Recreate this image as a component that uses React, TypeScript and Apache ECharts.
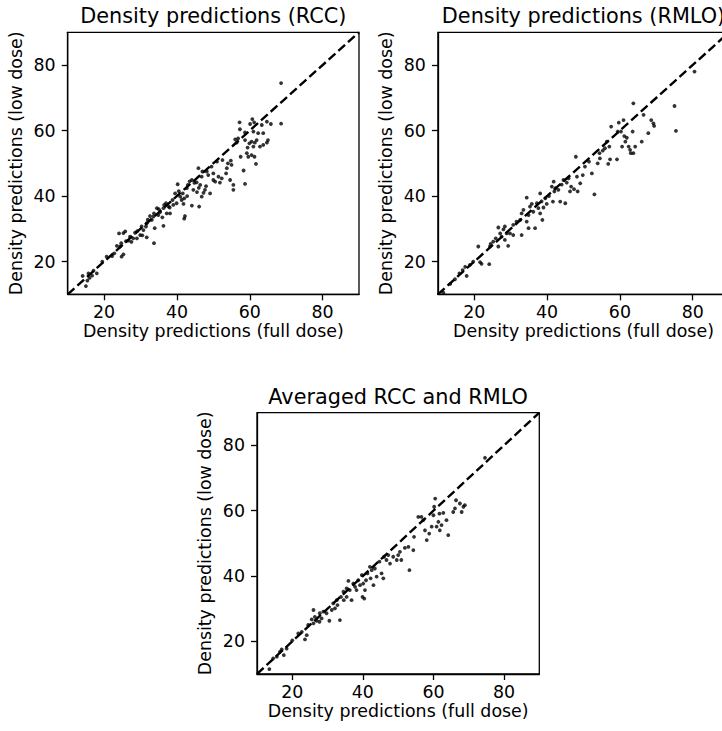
import React, { useEffect, useRef } from "react";
import * as echarts from "echarts";

const FONT = "DejaVu Sans";
const TICKS = [20, 40, 60, 80];
const AXIS_MIN = 10;
const AXIS_MAX = 90;
const TITLES = ["Density predictions (RCC)", "Density predictions (RMLO)", "Averaged RCC and RMLO"];
const X_NAME = "Density predictions (full dose)";
const Y_NAME = "Density predictions (low dose)";
const IDENTITY: [number, number][] = [[10, 10], [90, 90]];

// [full dose, low dose]
const rccPoints: [number, number][] = [
  [15.0, 12.5], [15.4, 14.2], [14.1, 15.6], [15.7, 16.4], [17.1, 17.2], [16.7, 15.7], [18.0, 16.4], [16.0, 15.0],
  [19.5, 20.0], [20.7, 21.5], [22.2, 21.7], [22.8, 22.5], [23.5, 24.8], [24.4, 24.6], [24.7, 25.6], [25.3, 28.7],
  [24.1, 28.6], [25.8, 29.2], [25.3, 22.2], [24.8, 21.5], [26.0, 26.2], [26.7, 26.4], [27.1, 27.6], [27.5, 26.0],
  [28.0, 27.1], [28.5, 28.8], [29.0, 27.1], [29.9, 28.1], [29.1, 29.3], [30.5, 28.0], [30.8, 29.6], [30.3, 30.7],
  [31.5, 30.7], [31.7, 27.4], [31.7, 31.7], [32.0, 32.8], [33.1, 32.7], [33.5, 33.7], [33.7, 34.7], [32.6, 33.9],
  [33.9, 30.2], [33.7, 25.6], [34.5, 36.3], [35.0, 36.0], [35.4, 35.1], [34.9, 34.2], [36.0, 33.5], [36.3, 36.3],
  [36.5, 37.3], [36.3, 30.9], [37.0, 37.8], [37.7, 36.8], [37.2, 34.7], [38.0, 36.5], [38.1, 34.7], [39.0, 37.3],
  [38.8, 38.8], [39.9, 37.8], [39.5, 40.8], [40.2, 43.6], [40.5, 41.5], [40.9, 39.8], [41.3, 38.8], [41.8, 37.6],
  [42.0, 39.3], [41.6, 40.8], [42.2, 33.9], [42.0, 33.1], [42.7, 42.4], [42.8, 40.0], [43.0, 43.4], [43.5, 44.5],
  [44.1, 44.9], [44.5, 41.9], [44.8, 44.0], [44.1, 37.1], [46.1, 36.8], [45.4, 44.2], [45.5, 41.2], [46.4, 43.4],
  [45.9, 48.5], [46.0, 42.5], [46.8, 45.9], [47.0, 47.5], [47.3, 41.0], [46.8, 39.8], [47.7, 41.9], [48.0, 43.0],
  [48.2, 47.5], [48.6, 46.4], [49.1, 40.8], [49.5, 49.0], [50.0, 44.9], [50.0, 46.9], [50.5, 44.4], [51.0, 50.5],
  [51.4, 45.9], [51.8, 44.1], [52.3, 45.4], [52.5, 51.0], [53.5, 46.9], [53.7, 48.5], [54.6, 44.9], [54.8, 50.8],
  [54.0, 50.0], [55.5, 43.4], [55.5, 41.9], [55.0, 49.5], [56.0, 57.3], [56.8, 57.6], [56.4, 56.3], [58.7, 57.1],
  [58.3, 47.8], [58.7, 43.7], [57.5, 52.0], [59.2, 53.1], [59.6, 52.0], [60.5, 52.5], [61.0, 55.1], [61.3, 52.0],
  [61.7, 49.8], [59.9, 56.1], [59.4, 54.8], [60.5, 56.6], [61.4, 56.3], [61.9, 57.1], [62.8, 55.1], [63.7, 55.6],
  [64.7, 56.3], [65.0, 57.1], [63.7, 59.2], [62.3, 59.2], [61.0, 59.7], [58.7, 59.4], [57.3, 60.4], [57.2, 62.5],
  [60.1, 62.0], [60.7, 63.5], [61.2, 62.5], [63.3, 61.7], [64.7, 62.7], [65.8, 62.0], [68.6, 62.1], [68.6, 74.5],
];

const rmloPoints: [number, number][] = [
  [11.5, 10.5], [13.4, 13.2], [14.7, 14.6], [15.9, 16.4], [16.8, 17.4], [17.9, 15.6], [17.5, 18.4], [18.8, 19.0],
  [19.7, 20.0], [21.1, 24.6], [21.6, 19.8], [22.0, 19.3], [24.1, 19.2], [24.3, 24.6], [24.5, 25.4], [25.2, 26.1],
  [25.9, 27.1], [26.6, 30.4], [26.6, 24.6], [27.1, 28.6], [27.5, 27.6], [28.0, 29.8], [28.4, 26.6], [28.9, 28.6],
  [28.4, 30.7], [29.3, 24.8], [29.8, 28.6], [30.7, 28.1], [30.7, 31.2], [31.6, 32.2], [32.6, 32.7], [33.0, 28.1],
  [33.0, 34.7], [33.5, 35.8], [34.4, 39.5], [34.4, 32.2], [34.9, 34.2], [34.9, 30.2], [35.3, 36.8], [35.8, 37.6],
  [36.2, 35.2], [36.7, 30.2], [37.2, 37.8], [37.6, 36.3], [38.1, 40.8], [38.1, 34.7], [38.5, 38.4], [38.7, 32.7],
  [39.0, 36.5], [39.5, 39.3], [39.9, 37.6], [40.5, 40.0], [41.3, 42.9], [41.8, 44.4], [42.0, 41.4], [42.3, 42.4],
  [41.6, 38.3], [43.1, 41.9], [43.6, 38.3], [44.0, 43.5], [44.5, 44.9], [45.0, 37.8], [45.4, 44.1], [45.9, 45.4],
  [46.3, 41.4], [46.6, 42.9], [47.4, 42.1], [47.9, 52.0], [48.2, 45.9], [48.4, 41.4], [49.1, 43.9], [49.8, 46.4],
  [50.4, 49.0], [51.5, 50.5], [52.3, 46.9], [53.0, 40.5], [53.9, 50.0], [54.5, 51.5], [54.4, 53.1], [55.3, 53.9],
  [55.9, 54.6], [56.4, 56.6], [57.1, 55.1], [57.3, 51.2], [56.8, 49.8], [57.6, 61.2], [59.2, 51.2], [59.4, 59.7],
  [59.7, 62.4], [60.3, 59.7], [60.6, 55.1], [61.0, 63.2], [61.2, 58.3], [61.5, 56.6], [61.9, 57.8], [62.4, 55.1],
  [62.8, 54.1], [63.0, 53.1], [63.5, 59.7], [63.7, 68.3], [64.2, 55.1], [63.7, 53.1], [66.0, 56.6], [66.5, 64.8],
  [67.8, 59.2], [68.6, 63.2], [69.2, 62.2], [69.4, 61.4], [75.0, 67.5], [75.4, 59.9], [80.5, 78.0],
];

const avgPoints: [number, number][] = [
  [13.5, 11.5], [14.6, 14.8], [15.6, 15.3], [16.5, 16.8], [17.6, 15.8], [17.0, 17.5], [18.4, 17.8], [20.0, 20.3],
  [21.7, 22.4], [22.7, 22.9], [23.6, 20.6], [24.1, 21.9], [24.5, 25.0], [25.5, 26.7], [26.0, 29.6], [26.0, 25.5],
  [26.4, 27.5], [26.9, 26.3], [27.7, 26.0], [27.8, 28.6], [28.3, 27.0], [28.8, 29.1], [29.7, 28.6], [30.5, 26.3],
  [31.2, 29.6], [31.6, 31.6], [32.1, 30.1], [32.6, 32.6], [32.8, 31.1], [33.5, 26.5], [33.8, 33.6], [34.5, 35.2],
  [34.6, 32.6], [35.4, 36.2], [35.9, 38.5], [35.4, 33.6], [36.3, 35.7], [36.8, 32.6], [37.3, 37.7], [37.8, 36.7],
  [38.2, 35.7], [38.7, 38.7], [39.2, 37.2], [39.7, 40.3], [39.9, 33.6], [40.1, 37.7], [40.6, 35.7], [40.4, 33.1],
  [40.9, 38.7], [41.3, 40.8], [42.2, 39.3], [42.0, 42.8], [42.5, 41.8], [43.0, 37.2], [43.4, 42.3], [43.9, 39.8],
  [44.7, 44.4], [45.3, 40.8], [45.8, 39.3], [46.0, 45.9], [46.7, 44.9], [47.2, 46.4], [47.7, 43.8], [48.6, 45.9],
  [49.6, 44.9], [50.0, 46.4], [50.5, 47.4], [50.9, 44.9], [51.9, 48.6], [52.9, 48.9], [53.2, 41.8], [54.3, 47.9],
  [54.5, 52.0], [55.7, 58.1], [56.6, 58.1], [57.1, 57.1], [57.6, 54.0], [58.1, 51.0], [58.8, 53.0], [59.5, 55.1],
  [60.0, 58.6], [60.2, 61.2], [60.5, 63.7], [60.9, 55.1], [61.4, 56.6], [61.7, 59.1], [61.8, 54.0], [62.3, 55.6],
  [62.8, 59.3], [63.7, 57.1], [64.2, 52.5], [65.6, 59.6], [66.1, 60.7], [66.4, 63.2], [67.5, 62.2], [68.0, 59.6],
  [68.5, 61.2], [68.9, 61.7], [74.6, 76.2],
];

const SERIES_POINTS = [rccPoints, rmloPoints, avgPoints];

export default function App() {
  const ref = useRef<HTMLDivElement>(null);
  useEffect(() => {
    document.body.style.margin = "0";
    const chart = echarts.init(ref.current!, null, { renderer: "svg" });
    const grids = [
      { left: 67.7, top: 32.3, width: 291.3, height: 262 },
      { left: 437.9, top: 32.3, width: 291.2, height: 262 },
      { left: 257, top: 412.7, width: 282.3, height: 261.3 },
    ];
    const labelStyle = { color: "#000", fontSize: 17.4, fontFamily: FONT, lineHeight: 18 };
    const lineStyle = { color: "#000", width: 1.3 };
    const xAxis = grids.map((_, i) => ({
      gridIndex: i,
      type: "value",
      min: AXIS_MIN,
      max: AXIS_MAX,
      axisLine: { show: true, onZero: false, lineStyle },
      axisTick: { show: true, customValues: TICKS, length: 6, lineStyle },
      axisLabel: { customValues: TICKS, margin: 9, ...labelStyle },
      splitLine: { show: false },
      name: X_NAME,
      nameLocation: "middle",
      nameGap: 28,
      nameTextStyle: { ...labelStyle },
    }));
    const yAxis = grids.map((_, i) => ({
      gridIndex: i,
      type: "value",
      min: AXIS_MIN,
      max: AXIS_MAX,
      axisLine: { show: true, onZero: false, lineStyle },
      axisTick: { show: true, customValues: TICKS, length: 6, lineStyle },
      axisLabel: { customValues: TICKS, margin: 12, ...labelStyle },
      splitLine: { show: false },
      name: Y_NAME,
      nameLocation: "middle",
      nameGap: 43,
      nameTextStyle: { ...labelStyle },
    }));
    const series: any[] = [];
    SERIES_POINTS.forEach((pts, i) => {
      series.push({
        type: "scatter",
        xAxisIndex: i,
        yAxisIndex: i,
        data: pts,
        symbolSize: 3.8,
        itemStyle: { color: "#000" },
        silent: true,
      });
      series.push({
        type: "line",
        xAxisIndex: i,
        yAxisIndex: i,
        data: IDENTITY,
        symbol: "none",
        silent: true,
        z: 3,
        lineStyle: { color: "#000", width: 2.4, type: [9, 4] },
      });
    });
    chart.setOption({
      animation: false,
      backgroundColor: "#fff",
      title: TITLES.map((t, i) => ({
        text: t,
        left: grids[i].left + grids[i].width / 2,
        top: i === 2 ? 386 : 5,
        textAlign: "center",
        padding: 0,
        textStyle: { color: "#000", fontSize: 20.8, fontWeight: "normal", fontFamily: FONT },
      })),
      grid: grids.map((g) => ({ ...g, show: true, borderColor: "#000", borderWidth: 1.3, backgroundColor: "transparent" })),
      xAxis,
      yAxis,
      series,
    });
    return () => chart.dispose();
  }, []);
  return (
    <div style={{ width: 722, height: 731, overflow: "hidden" }}>
      <div ref={ref} style={{ width: 740, height: 731 }} />
    </div>
  );
}
